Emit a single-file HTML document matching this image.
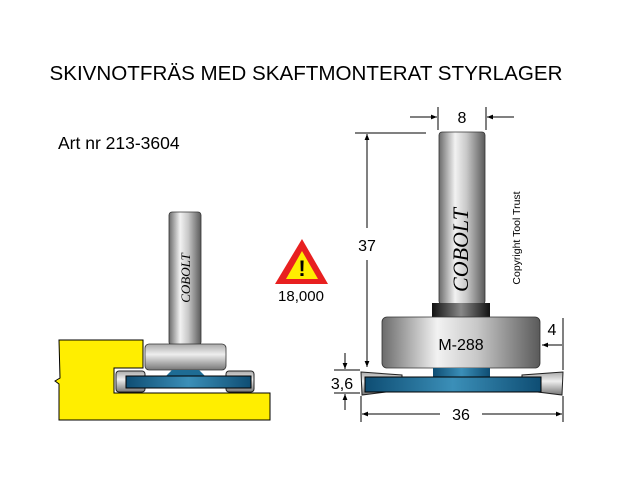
<!DOCTYPE html>
<html><head><meta charset="utf-8"><style>
body{margin:0;background:#fff;}
svg{display:block;font-family:"Liberation Sans",sans-serif;}
</style></head><body>
<svg width="624" height="488" viewBox="0 0 624 488">
<defs>
<linearGradient id="g" x1="0" x2="1" y1="0" y2="0">
<stop offset="0" stop-color="#6b6b6b"/><stop offset="0.35" stop-color="#f2f2f2"/><stop offset="0.6" stop-color="#c8c8c8"/><stop offset="1" stop-color="#5a5a5a"/></linearGradient>
<linearGradient id="gv" x1="0" x2="0" y1="0" y2="1">
<stop offset="0" stop-color="#aaa"/><stop offset="0.4" stop-color="#eee"/><stop offset="1" stop-color="#777"/></linearGradient>
<linearGradient id="b" x1="0" x2="1">
<stop offset="0" stop-color="#0e4d73"/><stop offset="0.5" stop-color="#3b8fb8"/><stop offset="1" stop-color="#0e4d73"/></linearGradient>
<linearGradient id="dk" x1="0" x2="1"><stop offset="0" stop-color="#111"/><stop offset="0.5" stop-color="#888"/><stop offset="1" stop-color="#111"/></linearGradient>
<marker id="a" viewBox="0 0 10 10" refX="10" refY="5" markerWidth="10" markerHeight="6" orient="auto-start-reverse"><path d="M0,1L10,5L0,9z" fill="#000"/></marker>
</defs>
<text x="306" y="80" font-size="20.6" text-anchor="middle">SKIVNOTFRÄS MED SKAFTMONTERAT STYRLAGER</text>
<text x="58" y="149" font-size="17.5">Art nr 213-3604</text>

<!-- left diagram -->
<path d="M59,340H143V368H114V393H270V420H59V384L55,381L60,378Z" fill="#ffee00" stroke="#000" stroke-width="1"/>
<rect x="169" y="212" width="32" height="133" rx="3" fill="url(#g)" stroke="#333" stroke-width="0.8"/>
<text transform="translate(190,278) rotate(-90)" font-family="Liberation Serif,serif" font-style="italic" font-size="13" text-anchor="middle">COBOLT</text>
<rect x="145" y="344" width="81" height="26" rx="4" fill="url(#gv)" stroke="#333" stroke-width="0.8"/>
<path d="M172,370H199L205,376H166Z" fill="#1e6c94"/>
<rect x="116" y="371" width="29" height="21" rx="3" fill="url(#gv)" stroke="#222"/>
<rect x="226" y="371" width="28" height="21" rx="3" fill="url(#gv)" stroke="#222"/>
<rect x="126" y="376" width="125" height="12" fill="url(#b)" stroke="#000"/>

<!-- warning -->
<path d="M302,239L328,284H275Z" fill="#e82020"/>
<path d="M302,251L318,279H286Z" fill="#ffee00"/>
<text x="302" y="276" font-size="22" font-weight="bold" text-anchor="middle">!</text>
<text x="301" y="301" font-size="15" text-anchor="middle">18,000</text>

<!-- right diagram -->
<rect x="439" y="132" width="46" height="172" rx="3" fill="url(#g)" stroke="#333" stroke-width="0.8"/>
<text transform="translate(468,250) rotate(-90)" font-family="Liberation Serif,serif" font-style="italic" font-size="22" text-anchor="middle">COBOLT</text>
<rect x="432" y="303" width="58" height="14" fill="url(#dk)"/>
<rect x="382" y="317" width="158" height="51" rx="5" fill="url(#g)" stroke="#333" stroke-width="0.8"/>
<text x="461" y="350" font-size="16" text-anchor="middle">M-288</text>
<rect x="433" y="368" width="57" height="10" fill="url(#b)"/>
<path d="M361,372L402,375V390L362,395Z" fill="url(#gv)" stroke="#222"/>
<path d="M563,372L522,375V390L562,395Z" fill="url(#gv)" stroke="#222"/>
<rect x="365" y="377" width="176" height="15" fill="url(#b)" stroke="#000"/>
<text x="520" y="238" font-size="10.5" text-anchor="middle" transform="rotate(-90 520 238)">Copyright Tool Trust</text>

<g stroke="#000" stroke-width="1" fill="none">
<line x1="438" y1="107" x2="438" y2="130"/><line x1="486" y1="107" x2="486" y2="130"/>
<line x1="410" y1="117" x2="437" y2="117" marker-end="url(#a)"/>
<line x1="514" y1="117" x2="487" y2="117" marker-end="url(#a)"/>
<line x1="355" y1="133" x2="426" y2="133"/>
<line x1="367" y1="228" x2="367" y2="134" marker-end="url(#a)"/>
<line x1="367" y1="260" x2="367" y2="367" marker-end="url(#a)"/>
<line x1="563" y1="318" x2="563" y2="370"/>
<line x1="562" y1="345" x2="542" y2="345" marker-end="url(#a)"/>
<line x1="334" y1="370" x2="360" y2="370"/><line x1="334" y1="393" x2="360" y2="393"/>
<line x1="345" y1="353" x2="345" y2="369" marker-end="url(#a)"/>
<line x1="345" y1="410" x2="345" y2="394" marker-end="url(#a)"/>
<line x1="361" y1="396" x2="361" y2="422"/><line x1="563" y1="396" x2="563" y2="422"/>
<line x1="440" y1="414" x2="362" y2="414" marker-end="url(#a)"/>
<line x1="482" y1="414" x2="562" y2="414" marker-end="url(#a)"/>
</g>
<text x="462" y="123" font-size="16" text-anchor="middle">8</text>
<text x="367" y="251" font-size="16" text-anchor="middle">37</text>
<text x="552" y="335" font-size="16" text-anchor="middle">4</text>
<text x="342" y="389" font-size="16" text-anchor="middle">3,6</text>
<text x="461" y="420" font-size="16" text-anchor="middle">36</text>
</svg>
</body></html>
